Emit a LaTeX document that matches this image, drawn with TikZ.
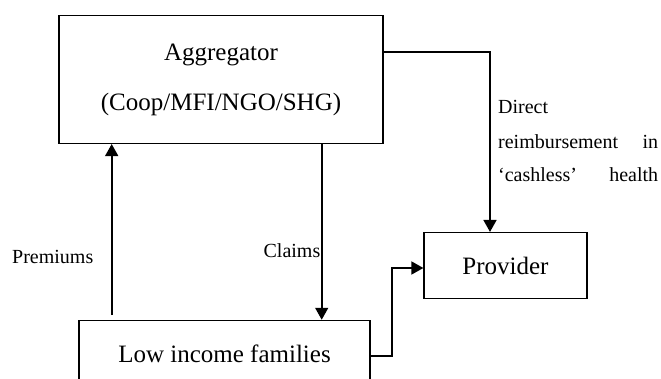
\documentclass[tikz,border=0pt]{standalone}
\usepackage{fontspec}
\setmainfont{Liberation Serif}
\usetikzlibrary{arrows.meta}
\begin{document}
\begin{tikzpicture}[x=1pt,y=-1pt,
  box/.style={draw, line width=1.5pt, rectangle, inner sep=0pt, align=center},
  big/.style={font=\fontsize{25}{50}\selectfont},
  lab/.style={font=\fontsize{20}{24}\selectfont, inner sep=0pt},
  conn/.style={line width=1.6pt},
  arr/.style={conn, -{Triangle[width=13pt,length=12pt]}}]
\clip[use as bounding box] (0,0) rectangle (661,379);
\fill[white] (0,0) rectangle (661,379);
% boxes
\node[box,big,minimum width=324pt,minimum height=127.6pt] (agg) at (221,79.5) {Aggregator\\(Coop/MFI/NGO/SHG)};
\node[box,big,minimum width=162.7pt,minimum height=65.6pt] (prov) at (505.5,265.5) {Provider};
\node[box,big,minimum width=291pt,minimum height=66pt] (low) at (224.5,353.5) {Low income families};
% connector helpers
\coordinate (ps) at (111.7,315);
\coordinate (cx) at (321.7,0);
\coordinate (dy) at (0,52.3);
\coordinate (dx) at (490,52.3);
\coordinate (ly) at (392,355.7);
\coordinate (ly2) at (392,268);
% connectors
\draw[arr] (ps) -- (ps |- agg.south);
\draw[arr] (cx |- agg.south) -- (cx |- low.north);
\draw[arr] (agg.east |- dy) -- (dx) -- (dx |- prov.north);
\draw[arr] (low.east |- ly) -- (ly) -- (ly2) -- (prov.west |- ly2);
% labels
\node[lab,anchor=base west] (prem) at (12,264) {Premiums};
\node[lab,anchor=base east] (clm) at (320.5,258) {Claims};
\node[lab,anchor=base west] (d1) at (498,113.3) {Direct};
\node[lab,anchor=base west] (d2) at (498,148.3) {\makebox[160pt][s]{reimbursement\hfill in}};
\node[lab,anchor=base west] (d3) at (498,181.7) {\makebox[160pt][s]{`cashless'\hfill health}};
\end{tikzpicture}
\end{document}
